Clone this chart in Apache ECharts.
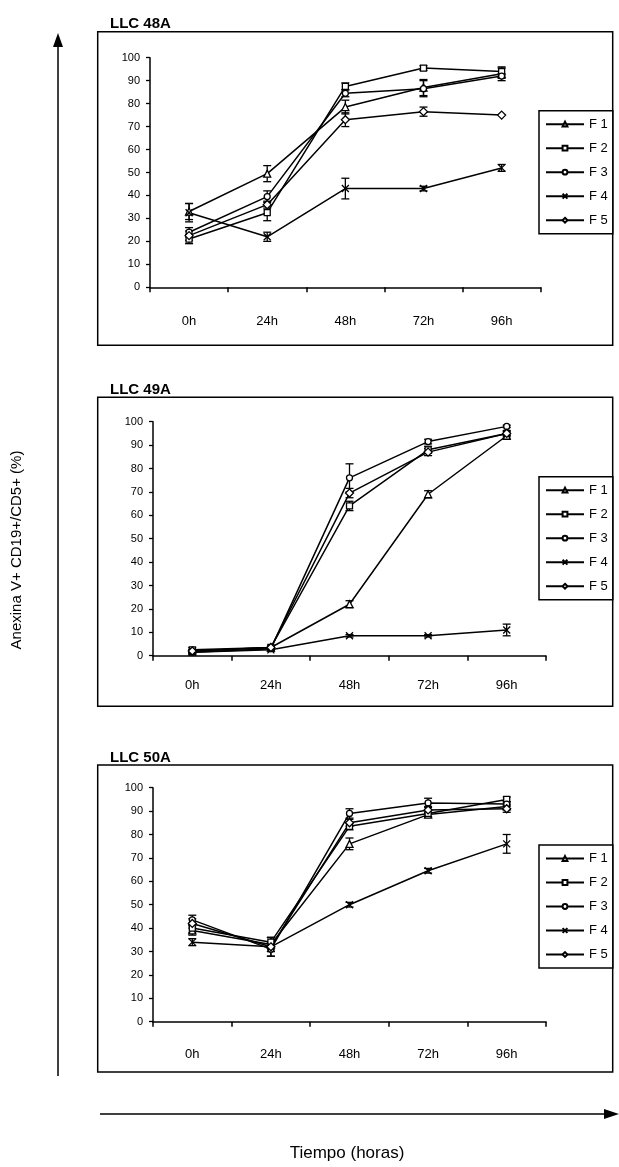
<!DOCTYPE html>
<html>
<head>
<meta charset="utf-8">
<script src="https://cdn.jsdelivr.net/npm/echarts@6/dist/echarts.min.js"></script>
<style>
  html, body { margin: 0; padding: 0; background: #fff; }
  #chart { width: 619px; height: 1167px; }
</style>
</head>
<body>
<div id="chart"></div>
<script>
// Time points and series names
const hours = ['0h', '24h', '48h', '72h', '96h'];
const seriesNames = ['F 1', 'F 2', 'F 3', 'F 4', 'F 5'];
const yTicks = { min: 0, max: 100, step: 10 };

// LLC 48A: means and error half-widths (%)
const llc48A_F1 = [33, 49.5, 78.5, 87, 93];
const llc48A_F2 = [21, 32.5, 87.5, 95.5, 94];
const llc48A_F3 = [24, 39.5, 84.5, 86.5, 92];
const llc48A_F4 = [32.5, 22, 43, 43, 52];
const llc48A_F5 = [22.5, 36, 73, 76.5, 75];
const llc48A_F1_err = [3.5, 3.5, 3, 3.5, 3];
const llc48A_F2_err = [2, 3.5, 1.5, 1, 1.5];
const llc48A_F3_err = [2, 2.5, 1.5, 3.5, 1];
const llc48A_F4_err = [4, 2, 4.5, 1, 1.5];
const llc48A_F5_err = [2, 1.5, 3, 2, 0];

// LLC 49A
const llc49A_F1 = [2, 3.5, 22, 69, 94];
const llc49A_F2 = [2.5, 3.5, 64, 88, 95];
const llc49A_F3 = [1.5, 3, 76, 91.5, 98];
const llc49A_F4 = [1.5, 2.5, 8.5, 8.5, 11];
const llc49A_F5 = [2, 3.5, 69.5, 87, 95];
const llc49A_F1_err = [0.5, 0.5, 1.5, 1.5, 1];
const llc49A_F2_err = [1, 0.5, 2, 1.5, 1];
const llc49A_F3_err = [0.5, 0.5, 6, 1, 0.5];
const llc49A_F4_err = [0.5, 0.5, 0.5, 0.5, 2.5];
const llc49A_F5_err = [0.5, 0.5, 2, 1.5, 1];

// LLC 50A
const llc50A_F1 = [39, 33, 76, 88.5, 92];
const llc50A_F2 = [40, 34, 83.5, 89, 95];
const llc50A_F3 = [43.5, 31, 89, 93.5, 93];
const llc50A_F4 = [34, 32, 50, 64.5, 76];
const llc50A_F5 = [42, 32, 85, 90.5, 91];
const llc50A_F1_err = [2, 3, 2.5, 1, 1];
const llc50A_F2_err = [2, 2, 1.5, 1.5, 1];
const llc50A_F3_err = [2, 3, 2, 2, 1];
const llc50A_F4_err = [1.5, 4, 1, 1, 4];
const llc50A_F5_err = [2, 2, 1.5, 1.5, 1.5];

const FONT = '"Liberation Sans", Arial, sans-serif';
const BLACK = '#000';

const markers = [
  { symbol: 'triangle', size: 7 },
  { symbol: 'rect', size: 6 },
  { symbol: 'circle', size: 6 },
  { symbol: 'path://M0,0L10,10M10,0L0,10', size: 7 },
  { symbol: 'diamond', size: 8 }
];

const panels = [
  {
    title: 'LLC 48A',
    vals: [llc48A_F1, llc48A_F2, llc48A_F3, llc48A_F4, llc48A_F5],
    errs: [llc48A_F1_err, llc48A_F2_err, llc48A_F3_err, llc48A_F4_err, llc48A_F5_err],
    grid: { left: 150, top: 57.7, width: 390.7, height: 229.6 },
    box: { y: 31.7, h: 313.5 },
    legendTop: 110.7,
    labelMargin: 28
  },
  {
    title: 'LLC 49A',
    vals: [llc49A_F1, llc49A_F2, llc49A_F3, llc49A_F4, llc49A_F5],
    errs: [llc49A_F1_err, llc49A_F2_err, llc49A_F3_err, llc49A_F4_err, llc49A_F5_err],
    grid: { left: 153, top: 421.7, width: 393, height: 234 },
    box: { y: 397.3, h: 309 },
    legendTop: 476.7,
    labelMargin: 23
  },
  {
    title: 'LLC 50A',
    vals: [llc50A_F1, llc50A_F2, llc50A_F3, llc50A_F4, llc50A_F5],
    errs: [llc50A_F1_err, llc50A_F2_err, llc50A_F3_err, llc50A_F4_err, llc50A_F5_err],
    grid: { left: 153, top: 787.7, width: 393, height: 234 },
    box: { y: 765, h: 307 },
    legendTop: 845,
    labelMargin: 26
  }
];

const chart = echarts.init(document.getElementById('chart'), null, { renderer: 'canvas' });

function errorBarSeries(p, gi) {
  const data = [];
  p.vals.forEach((vals, k) => {
    vals.forEach((v, i) => data.push([i, v, p.errs[k][i]]));
  });
  return {
    type: 'custom',
    xAxisIndex: gi,
    yAxisIndex: gi,
    silent: true,
    z: 2,
    data: data,
    renderItem: function (params, api) {
      const x = api.value(0), y = api.value(1), e = api.value(2);
      if (!e) return null;
      const top = api.coord([x, y + e]);
      const bot = api.coord([x, y - e]);
      const w = 4;
      const st = { stroke: BLACK, lineWidth: 1.3 };
      return {
        type: 'group',
        children: [
          { type: 'line', shape: { x1: top[0], y1: top[1], x2: bot[0], y2: bot[1] }, style: st },
          { type: 'line', shape: { x1: top[0] - w, y1: top[1], x2: top[0] + w, y2: top[1] }, style: st },
          { type: 'line', shape: { x1: bot[0] - w, y1: bot[1], x2: bot[0] + w, y2: bot[1] }, style: st }
        ]
      };
    }
  };
}

const series = [];
panels.forEach((p, gi) => {
  p.vals.forEach((vals, k) => {
    series.push({
      type: 'line',
      name: seriesNames[k],
      xAxisIndex: gi,
      yAxisIndex: gi,
      data: vals,
      symbol: markers[k].symbol,
      symbolSize: markers[k].size,
      showAllSymbol: true,
      lineStyle: { color: BLACK, width: 1.5 },
      itemStyle: { color: '#fff', borderColor: BLACK, borderWidth: 1.3 },
      emphasis: { disabled: true },
      z: 3
    });
  });
  series.push(errorBarSeries(p, gi));
});

const graphics = [];
panels.forEach((p) => {
  graphics.push({
    type: 'rect', silent: true, z: 0,
    shape: { x: 97.7, y: p.box.y, width: 515, height: p.box.h },
    style: { fill: 'none', stroke: BLACK, lineWidth: 1.5 }
  });
  graphics.push({
    type: 'text', silent: true,
    x: 110, y: p.box.y,
    style: {
      text: p.title, font: 'bold 15px ' + FONT, fill: BLACK,
      textAlign: 'left', textVerticalAlign: 'bottom'
    }
  });
});
// Vertical arrow
graphics.push({ type: 'line', silent: true, shape: { x1: 58, y1: 1076, x2: 58, y2: 44 }, style: { stroke: BLACK, lineWidth: 1.5 } });
graphics.push({ type: 'polygon', silent: true, shape: { points: [[58, 33], [53, 47], [63, 47]] }, style: { fill: BLACK } });
// Horizontal arrow
graphics.push({ type: 'line', silent: true, shape: { x1: 100, y1: 1114, x2: 606, y2: 1114 }, style: { stroke: BLACK, lineWidth: 1.5 } });
graphics.push({ type: 'polygon', silent: true, shape: { points: [[619, 1114], [604, 1109], [604, 1119]] }, style: { fill: BLACK } });
// Axis titles
graphics.push({
  type: 'text', silent: true, x: 17, y: 550, rotation: Math.PI / 2,
  style: { text: 'Anexina V+ CD19+/CD5+ (%)', font: '15px ' + FONT, fill: BLACK, textAlign: 'center', textVerticalAlign: 'middle' }
});
graphics.push({
  type: 'text', silent: true, x: 347, y: 1153,
  style: { text: 'Tiempo (horas)', font: '17px ' + FONT, fill: BLACK, textAlign: 'center', textVerticalAlign: 'middle' }
});

const option = {
  animation: false,
  backgroundColor: '#fff',
  textStyle: { fontFamily: FONT },
  grid: panels.map(p => Object.assign({}, p.grid, { containLabel: false })),
  xAxis: panels.map((p, gi) => ({
    type: 'category',
    gridIndex: gi,
    data: hours,
    boundaryGap: true,
    axisLine: { lineStyle: { color: BLACK, width: 1.5 } },
    axisTick: { show: true, length: 5, lineStyle: { color: BLACK, width: 1.5 } },
    axisLabel: { margin: p.labelMargin, fontSize: 13, color: BLACK, fontFamily: FONT },
    splitLine: { show: false }
  })),
  yAxis: panels.map((p, gi) => ({
    type: 'value',
    gridIndex: gi,
    min: yTicks.min,
    max: yTicks.max,
    interval: yTicks.step,
    axisLine: { show: true, lineStyle: { color: BLACK, width: 1.5 } },
    axisTick: { show: true, length: 4, lineStyle: { color: BLACK, width: 1.3 } },
    axisLabel: { margin: 10, fontSize: 11, color: BLACK, fontFamily: FONT },
    splitLine: { show: false }
  })),
  legend: panels.map(p => ({
    data: seriesNames,
    orient: 'vertical',
    left: 539,
    top: p.legendTop,
    itemWidth: 38,
    itemHeight: 6,
    itemGap: 9,
    padding: [6, 5, 6, 6],
    borderColor: BLACK,
    borderWidth: 1.5,
    backgroundColor: '#fff',
    selectedMode: false,
    textStyle: { fontSize: 13, color: BLACK, fontFamily: FONT, lineHeight: 15, padding: [0, 0, 0, 0] }
  })),
  graphic: graphics,
  series: series
};

chart.setOption(option);
</script>
</body>
</html>
